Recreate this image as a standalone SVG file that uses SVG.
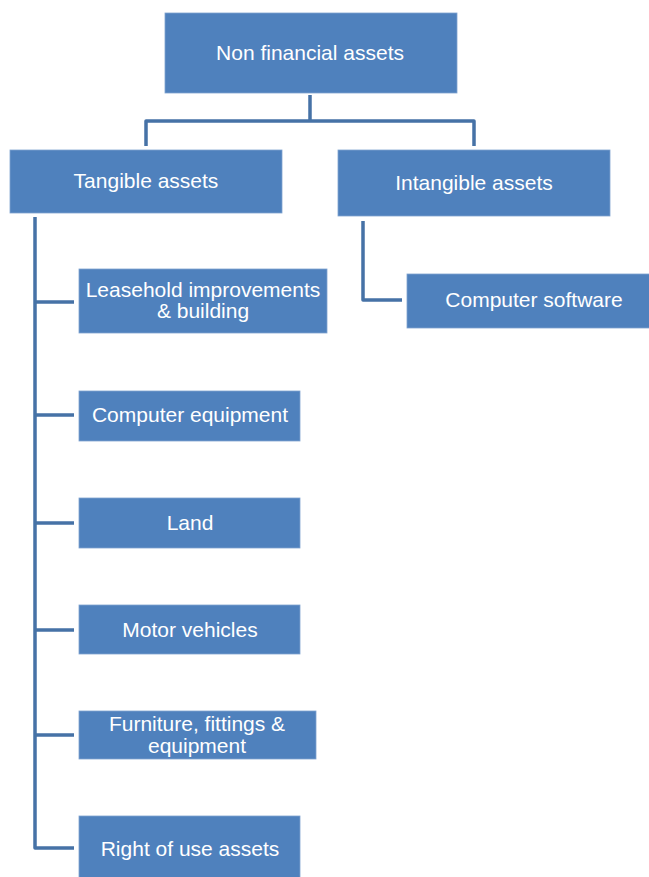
<svg xmlns="http://www.w3.org/2000/svg" width="649" height="877" viewBox="0 0 649 877">
<style>
.box{fill:#4F81BD;stroke:#7FA3D0;stroke-width:0.8}
.t{fill:#FFFFFF;font-family:"Liberation Sans",Arial,sans-serif;font-size:21px;text-anchor:middle}
.c{fill:none;stroke:#4672A6;stroke-width:3.5;stroke-linejoin:round}
</style>
<rect width="649" height="877" fill="#FFFFFF"/>
<g id="connectors">
<path class="c" d="M310,95 V121 M146,146 V121 H474 V146"/>
<path class="c" d="M35,217 V848 H74 M35,302 H74 M35,415 H74 M35,523 H74 M35,630 H74 M35,735 H74"/>
<path class="c" d="M363,221 V300 H402"/>
</g>
<g id="n_root"><rect class="box" x="165" y="13" width="292" height="80"/><text class="t" x="310" y="60">Non financial assets</text></g>
<g id="n_tangible"><rect class="box" x="10" y="150" width="272" height="63"/><text class="t" x="146" y="188">Tangible assets</text></g>
<g id="n_intangible"><rect class="box" x="338" y="150" width="272" height="66"/><text class="t" x="474" y="190">Intangible assets</text></g>
<g id="n_software"><rect class="box" x="407" y="274" width="245" height="54"/><text class="t" x="534" y="307">Computer software</text></g>
<g id="n_leasehold"><rect class="box" x="79" y="269" width="248" height="64"/><text class="t" x="203" y="297">Leasehold improvements</text><text class="t" x="203" y="318">&amp; building</text></g>
<g id="n_computer"><rect class="box" x="79" y="391" width="221" height="50"/><text class="t" x="190" y="422">Computer equipment</text></g>
<g id="n_land"><rect class="box" x="79" y="498" width="221" height="50"/><text class="t" x="190" y="530">Land</text></g>
<g id="n_motor"><rect class="box" x="79" y="605" width="221" height="49"/><text class="t" x="190" y="637">Motor vehicles</text></g>
<g id="n_furniture"><rect class="box" x="79" y="711" width="237" height="48"/><text class="t" x="197" y="731">Furniture, fittings &amp;</text><text class="t" x="197" y="753">equipment</text></g>
<g id="n_rou"><rect class="box" x="79" y="816" width="221" height="62"/><text class="t" x="190" y="856">Right of use assets</text></g>
</svg>
